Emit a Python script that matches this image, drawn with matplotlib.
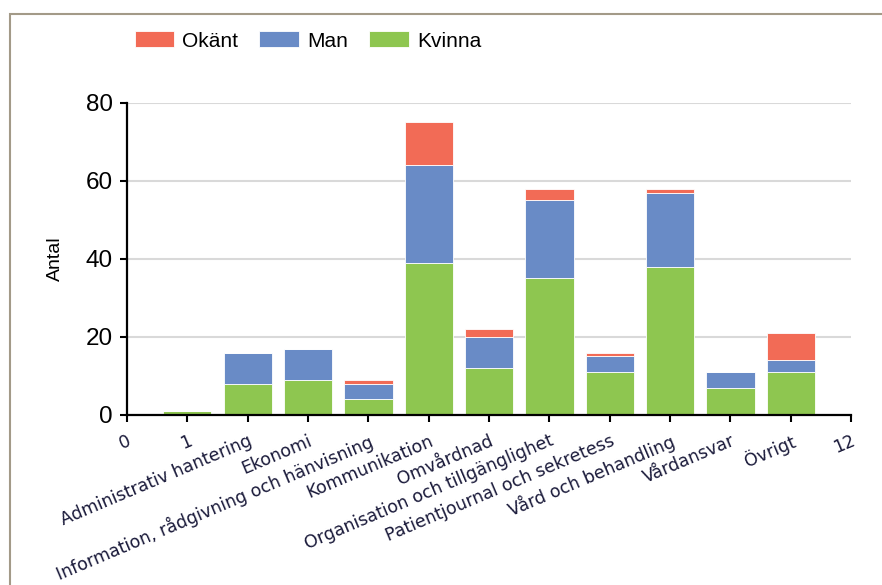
import numpy as np
import matplotlib.pyplot as plt
from matplotlib.patches import Rectangle

# kategorier (x = 1..11) och antal per kön
categories = ['1', 'Administrativ hantering', 'Ekonomi',
              'Information, rådgivning och hänvisning', 'Kommunikation',
              'Omvårdnad', 'Organisation och tillgänglighet',
              'Patientjournal och sekretess', 'Vård och behandling',
              'Vårdansvar', 'Övrigt']
kvinna = [1, 8, 9, 4, 39, 12, 35, 11, 38, 7, 11]
man = [0, 8, 8, 4, 25, 8, 20, 4, 19, 4, 3]
okant = [0, 0, 0, 1, 11, 2, 3, 1, 1, 0, 7]

c_kvinna = '#8EC650'
c_man = '#698BC6'
c_okant = '#F26B56'

x = np.arange(1, len(categories) + 1)
kvinna = np.array(kvinna)
man = np.array(man)
okant = np.array(okant)

fig = plt.figure(figsize=(8.82, 5.85), dpi=100)
ax = fig.add_axes([0.144, 0.2906, 0.821, 0.5334])

# ram runt diagrammet
fig.patches.append(Rectangle((9.5 / 882, -0.1), 1.2, 1.1 - 14.5 / 585,
                             transform=fig.transFigure, fill=False,
                             edgecolor='#A39A88', linewidth=1.5))

kw = dict(width=0.8, edgecolor='white', linewidth=0.6, zorder=3)
b1 = ax.bar(x, kvinna, color=c_kvinna, label='Kvinna', **kw)
b2 = ax.bar(x, man, bottom=kvinna, color=c_man, label='Man', **kw)
b3 = ax.bar(x, okant, bottom=kvinna + man, color=c_okant, label='Okänt', **kw)

ax.set_xlim(0, 12)
ax.set_ylim(0, 80)
ax.set_yticks([0, 20, 40, 60, 80])
ax.grid(axis='y', color='#D9D9D9', linewidth=1.5, zorder=0)
ax.set_axisbelow(True)

for s in ['top', 'right']:
    ax.spines[s].set_visible(False)
for s in ['left', 'bottom']:
    ax.spines[s].set_linewidth(1.6)
    ax.spines[s].set_zorder(5)

ax.tick_params(axis='both', length=5, width=1.5)
ax.tick_params(axis='y', labelsize=17.5, pad=5)
for t in ax.get_yticklabels():
    t.set_family('Liberation Sans')

ax.set_xticks(np.arange(0, 13))
ax.set_xticklabels(['0'] + categories + ['12'], rotation=23,
                   ha='right', va='top', rotation_mode='anchor',
                   fontsize=12.5, family='DejaVu Sans', color='#1a1a3a')
ax.tick_params(axis='x', pad=7)

ax.set_ylabel('Antal', fontsize=14, family='Liberation Sans', labelpad=16)

ax.legend(handles=[b3, b2, b1], loc='center', bbox_to_anchor=(0.349, 0.93),
          bbox_transform=fig.transFigure, ncol=3, frameon=False,
          prop={'family': 'Liberation Sans', 'size': 15},
          handlelength=1.9, handleheight=0.8, handletextpad=0.4,
          columnspacing=1.0)

fig.savefig('out.png', dpi=100)
